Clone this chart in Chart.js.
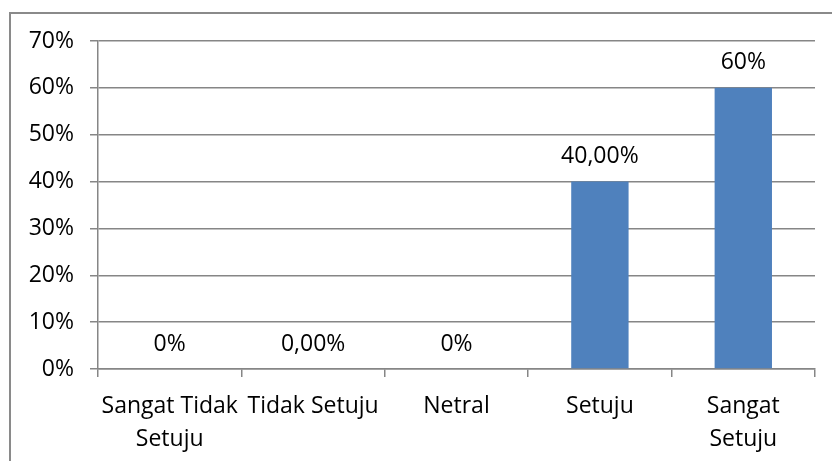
<!DOCTYPE html>
<html>
<head>
<meta charset="utf-8">
<script src="https://cdn.jsdelivr.net/npm/chart.js@4/dist/chart.umd.min.js"></script>
<style>
  html, body { margin: 0; padding: 0; background: #fff; }
  .wrap { position: relative; width: 832px; height: 461px; overflow: hidden; }
  .frame { position: absolute; left: 9px; top: 12px; width: 900px; height: 500px;
           border: 2px solid #8a8a8a; box-sizing: border-box; }
  canvas { position: absolute; left: 0; top: 0; }
</style>
</head>
<body>
<div class="wrap">
  <div class="frame"></div>
  <canvas id="chart" width="832" height="461"></canvas>
</div>
<script>
'use strict';

var categories = [
  ['Sangat Tidak', 'Setuju'],
  ['Tidak Setuju'],
  ['Netral'],
  ['Setuju'],
  ['Sangat', 'Setuju']
];
var values = [0, 0, 0, 40, 60];
var valueLabels = ['0%', '0,00%', '0%', '40,00%', '60%'];
var yTicks = [0, 10, 20, 30, 40, 50, 60, 70];

var fontFamily = '"Open Sans", sans-serif';
var gridColor = '#868686';

// writes the value labels above each bar
var valueLabelPlugin = {
  id: 'valueLabels',
  afterDatasetsDraw: function(chart) {
    var ctx = chart.ctx;
    var meta = chart.getDatasetMeta(0);
    ctx.save();
    ctx.font = '23px ' + fontFamily;
    ctx.fillStyle = '#000';
    ctx.textAlign = 'center';
    ctx.textBaseline = 'middle';
    meta.data.forEach(function(bar, i) {
      ctx.fillText(valueLabels[i], bar.x, bar.y - 25);
    });
    ctx.restore();
  }
};

new Chart(document.getElementById('chart'), {
  type: 'bar',
  data: {
    labels: categories,
    datasets: [{
      data: values,
      backgroundColor: '#4F81BD',
      borderWidth: 0,
      categoryPercentage: 1,
      barPercentage: 0.4
    }]
  },
  options: {
    responsive: false,
    animation: false,
    events: [],
    layout: { padding: { top: 41, right: 17, left: 0, bottom: 0 } },
    plugins: {
      legend: { display: false },
      tooltip: { enabled: false }
    },
    scales: {
      y: {
        min: 0,
        max: 70,
        afterFit: function(scale) { scale.width = 98; },
        afterBuildTicks: function(scale) {
          scale.ticks = yTicks.map(function(v) { return { value: v }; });
        },
        ticks: {
          color: '#000',
          padding: 16,
          font: { family: fontFamily, size: 23 },
          callback: function(v) { return v + '%'; }
        },
        grid: { color: gridColor, lineWidth: 1.5, tickLength: 8 },
        border: { color: gridColor, width: 1.5 }
      },
      x: {
        afterFit: function(scale) { scale.height = 92; },
        ticks: {
          color: '#000',
          padding: 13,
          maxRotation: 0,
          autoSkip: false,
          font: { family: fontFamily, size: 23, lineHeight: 1.43 }
        },
        grid: { color: gridColor, lineWidth: 1.5, drawOnChartArea: false, tickLength: 8, offset: true },
        border: { color: gridColor, width: 1.5 }
      }
    }
  },
  plugins: [valueLabelPlugin]
});
</script>
</body>
</html>
